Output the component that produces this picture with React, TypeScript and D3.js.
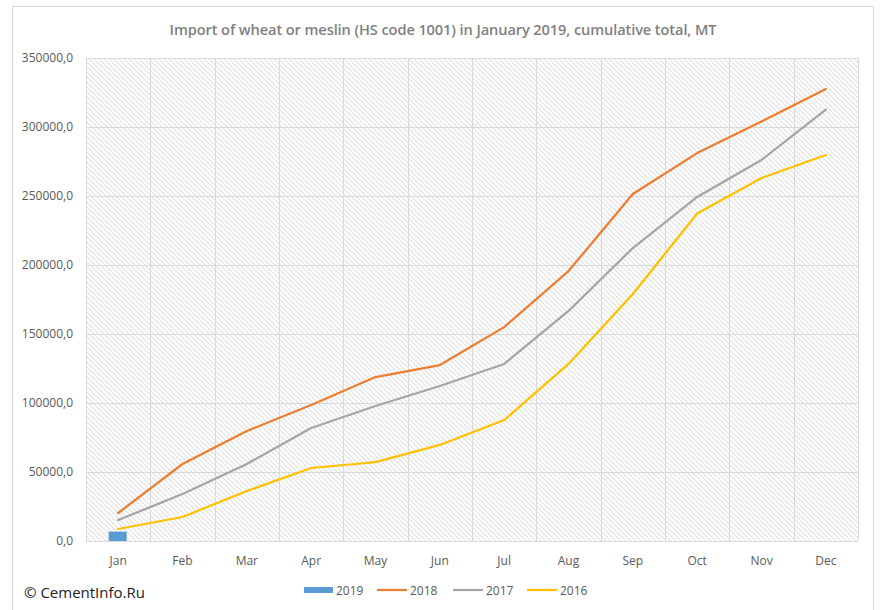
import React, { useRef, useEffect } from 'react';
import * as d3 from 'd3';

const months = ['Jan', 'Feb', 'Mar', 'Apr', 'May', 'Jun', 'Jul', 'Aug', 'Sep', 'Oct', 'Nov', 'Dec'];
const values2019 = [6800];
const values2018 = [20300, 55800, 79700, 98500, 118800, 127500, 155000, 195600, 251400, 281100, 304000, 327500];
const values2017 = [15200, 34000, 55800, 81900, 97800, 112300, 128300, 166700, 212300, 249300, 276100, 312600];
const values2016 = [8700, 17400, 36200, 52900, 57200, 69600, 87700, 128300, 179000, 237300, 263000, 279700];
const yTicks = [0, 50000, 100000, 150000, 200000, 250000, 300000, 350000];

const lineSeries = [
  { name: '2018', values: values2018, color: '#ED7D31' },
  { name: '2017', values: values2017, color: '#A5A5A5' },
  { name: '2016', values: values2016, color: '#FFC000' },
];

const App = () => {
  const svgRef = useRef(null);

  useEffect(() => {
    const svg = d3.select(svgRef.current);
    svg.selectAll('*').remove();

    const margin = { left: 86, right: 22, top: 58, bottom: 69 };
    const width = 880;
    const height = 610;

    const x = d3.scaleBand().domain(months).range([margin.left, width - margin.right]);
    const y = d3.scaleLinear().domain([0, 350000]).range([height - margin.bottom, margin.top]);

    // hatch pattern for the plot area
    const defs = svg.append('defs');
    const pat = defs.append('pattern')
      .attr('id', 'hatch')
      .attr('patternUnits', 'userSpaceOnUse')
      .attr('width', 5)
      .attr('height', 5);
    pat.append('rect').attr('width', 5).attr('height', 5).attr('fill', '#fff');
    pat.append('path')
      .attr('d', 'M-1,-1 L6,6 M-1,4 L1,6 M4,-1 L6,1')
      .attr('stroke', '#e0e0e0')
      .attr('stroke-width', 1.1);

    // outer frame
    svg.append('rect')
      .attr('x', 12.5).attr('y', 6.5)
      .attr('width', 861).attr('height', 620)
      .attr('fill', '#fff')
      .attr('stroke', '#d9d9d9');

    svg.append('text')
      .attr('x', 443)
      .attr('y', 35)
      .attr('text-anchor', 'middle')
      .style('font', '600 14.6px "Open Sans", sans-serif')
      .style('letter-spacing', '-0.1px')
      .attr('fill', '#7f7f7f')
      .text('Import of wheat or meslin (HS code 1001) in January 2019,  cumulative total, MT');

    svg.append('rect')
      .attr('x', margin.left).attr('y', margin.top)
      .attr('width', width - margin.right - margin.left)
      .attr('height', height - margin.bottom - margin.top)
      .attr('fill', 'url(#hatch)');

    // grid
    const grid = svg.append('g').attr('stroke', '#d9d9d9').attr('stroke-width', 1);
    grid.selectAll('line.h').data(yTicks).enter().append('line')
      .attr('x1', margin.left).attr('x2', width - margin.right)
      .attr('y1', d => Math.round(y(d)) + 0.5).attr('y2', d => Math.round(y(d)) + 0.5);
    const bounds = months.map(m => x(m)).concat([width - margin.right]);
    grid.selectAll('line.v').data(bounds).enter().append('line')
      .attr('x1', d => Math.round(d) + 0.5).attr('x2', d => Math.round(d) + 0.5)
      .attr('y1', margin.top).attr('y2', height - margin.bottom);

    // y labels
    svg.append('g').selectAll('text').data(yTicks).enter().append('text')
      .attr('x', 73)
      .attr('y', d => y(d) + 4)
      .attr('text-anchor', 'end')
      .style('font', '12px "Open Sans", sans-serif')
      .attr('fill', '#595959')
      .text(d => d3.format('.1f')(d).replace('.', ','));

    // x labels
    svg.append('g').selectAll('text').data(months).enter().append('text')
      .attr('x', d => x(d) + x.bandwidth() / 2)
      .attr('y', height - margin.bottom + 24)
      .attr('text-anchor', 'middle')
      .style('font', '12px "Open Sans", sans-serif')
      .attr('fill', '#595959')
      .text(d => d);

    // 2019 bars
    const barW = 18;
    svg.append('g').selectAll('rect').data(values2019).enter().append('rect')
      .attr('x', (d, i) => x(months[i]) + x.bandwidth() / 2 - barW / 2 - 0.5)
      .attr('y', d => y(d))
      .attr('width', barW)
      .attr('height', d => y(0) - y(d))
      .attr('fill', '#5B9BD5');

    const line = d3.line()
      .x((d, i) => x(months[i]) + x.bandwidth() / 2)
      .y(d => y(d));

    lineSeries.slice().reverse().forEach(s => {
      svg.append('path')
        .datum(s.values)
        .attr('d', line)
        .attr('fill', 'none')
        .attr('stroke', s.color)
        .attr('stroke-width', 2.25)
        .attr('stroke-linejoin', 'round')
        .attr('stroke-linecap', 'round');
    });

    // legend
    const lg = svg.append('g').style('font', '12px "Open Sans", sans-serif').attr('fill', '#595959');
    lg.append('rect').attr('x', 304).attr('y', 587).attr('width', 29).attr('height', 6).attr('fill', '#5B9BD5');
    lg.append('text').attr('x', 336).attr('y', 594.5).text('2019');
    const legendX = [377, 453, 527];
    lineSeries.forEach((s, i) => {
      lg.append('line')
        .attr('x1', legendX[i]).attr('x2', legendX[i] + 30)
        .attr('y1', 590).attr('y2', 590)
        .attr('stroke', s.color).attr('stroke-width', 2.25);
      lg.append('text').attr('x', legendX[i] + 33).attr('y', 594.5).text(s.name);
    });

    svg.append('text')
      .attr('x', 24)
      .attr('y', 598)
      .style('font', '15px "Open Sans", sans-serif')
      .attr('fill', '#222')
      .text('© CementInfo.Ru');
  }, []);

  return (
    <svg ref={svgRef} width={880} height={610}
      style={{ position: 'absolute', left: 0, top: 0, background: '#fff' }}></svg>
  );
};

export default App;
